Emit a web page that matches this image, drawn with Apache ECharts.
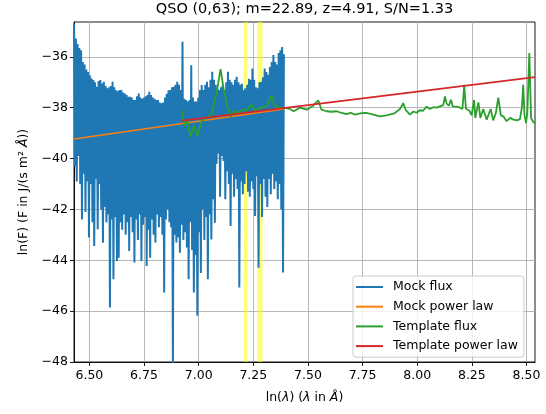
<!DOCTYPE html>
<html>
<head>
<meta charset="utf-8">
<script src="https://cdn.jsdelivr.net/npm/echarts@6/dist/echarts.min.js"></script>
<style>html,body{margin:0;padding:0;background:#fff}#c{width:546px;height:414px}</style>
</head>
<body>
<div id="c"></div>
<script>
// ---- data ----
const titleText = 'QSO (0,63); m=22.89, z=4.91, S/N=1.33';
const xTicks = [6.5, 6.75, 7.0, 7.25, 7.5, 7.75, 8.0, 8.25, 8.5];
const yTicks = [-48, -46, -44, -42, -40, -38, -36];
const seriesNames = ['Mock flux', 'Mock power law', 'Template flux', 'Template power law'];

// mock flux sampled on a uniform ln(lambda) grid
const mockStart = 6.43;
const mockStep = 0.004;
const mockFlux = [
  -34.7, -40.3, -35.28, -40.9, -35.5, -39.9, -35.65, -41.0, -35.74, -42.4,
  -36.2, -40.6, -36.3, -42.1, -36.5, -40.9, -36.6, -43.1, -36.72, -41.0,
  -36.85, -42.5, -36.91, -43.44, -37.0, -40.8, -37.18, -42.78, -36.95, -41.0,
  -36.91, -42.0, -37.05, -43.31, -36.98, -41.9, -37.15, -42.5, -37.24, -42.2,
  -37.2, -45.86, -37.15, -42.4, -36.98, -44.75, -37.2, -42.3, -37.31, -44.03,
  -37.35, -43.9, -37.3, -42.5, -37.3, -42.8, -37.4, -42.2, -37.44, -43.0,
  -37.5, -42.5, -37.57, -43.63, -37.57, -42.3, -37.6, -42.9, -37.7, -44.09,
  -37.7, -42.4, -37.55, -43.2, -37.44, -42.2, -37.6, -44.03, -37.65, -42.6,
  -37.6, -42.3, -37.55, -44.22, -37.5, -42.8, -37.37, -43.9, -37.5, -42.4,
  -37.6, -43.0, -37.65, -43.3, -37.7, -42.2, -37.7, -42.7, -37.8, -42.3,
  -37.83, -43.0, -37.8, -45.27, -37.6, -42.4, -37.45, -42.0, -37.31, -42.5,
  -37.3, -42.7, -37.2, -48.2, -37.18, -43.0, -37.1, -43.3, -36.98, -43.1,
  -37.1, -43.7, -37.3, -42.6, -35.41, -43.2, -37.65, -42.9, -37.7, -43.5,
  -37.76, -44.75, -37.7, -42.5, -36.33, -43.6, -37.6, -45.27, -37.76, -43.8,
  -37.76, -46.18, -37.6, -42.9, -37.3, -44.5, -37.11, -42.0, -37.3, -43.2,
  -37.1, -42.3, -36.98, -44.75, -37.2, -42.2, -36.9, -43.18, -36.59, -41.6,
  -36.9, -42.52, -37.1, -40.2, -37.24, -39.8, -37.3, -41.5, -37.2, -39.9,
  -37.11, -40.1, -37.3, -41.6, -37.0, -40.5, -36.59, -41.0, -36.9, -42.65,
  -37.0, -40.6, -37.1, -41.5, -36.9, -40.8, -36.78, -41.2, -37.0, -45.07,
  -37.1, -40.9, -37.06, -41.4, -37.3, -41.0, -37.24, -40.5, -37.1, -41.3,
  -36.86, -41.5, -36.9, -40.9, -36.46, -41.2, -36.9, -42.26, -37.2, -40.7,
  -37.24, -44.29, -37.0, -41.0, -36.98, -42.3, -36.8, -40.8, -36.46, -41.5,
  -36.6, -41.9, -36.7, -40.8, -36.4, -41.4, -36.2, -40.6, -35.93, -41.2,
  -36.2, -40.9, -36.3, -41.6, -35.85, -41.0, -35.74, -42.0, -35.61, -44.48,
  -35.9
];

const mockPowerLawLnLam = [6.43, 7.39];
const mockPowerLawFlux = [-39.23, -38.05];

const templateLnLam = [
  6.924, 6.936, 6.947, 6.962, 6.978, 6.994, 7.013, 7.036, 7.059, 7.082,
  7.100, 7.115, 7.135, 7.146, 7.165, 7.180, 7.203, 7.220, 7.242, 7.257,
  7.288, 7.310, 7.333, 7.348, 7.371, 7.394, 7.417, 7.435, 7.463, 7.494,
  7.524, 7.547, 7.562, 7.585, 7.608, 7.631, 7.646, 7.677, 7.696, 7.715,
  7.745, 7.768, 7.799, 7.829, 7.860, 7.898, 7.921, 7.936, 7.948, 7.967,
  7.982, 7.997, 8.012, 8.027, 8.043, 8.058, 8.073, 8.089, 8.104, 8.119,
  8.127, 8.135, 8.145, 8.154, 8.163, 8.180, 8.196, 8.207, 8.215, 8.223,
  8.238, 8.249, 8.260, 8.266, 8.280, 8.289, 8.302, 8.318, 8.336, 8.348,
  8.360, 8.371, 8.383, 8.394, 8.409, 8.425, 8.440, 8.457, 8.470, 8.479,
  8.485, 8.491, 8.498, 8.504, 8.513, 8.521, 8.530, 8.539
];
const templateFlux = [
  -38.10, -38.73, -38.45, -39.15, -38.70, -39.10, -38.54, -38.40, -38.27, -37.42,
  -36.48, -37.30, -38.08, -38.36, -38.12, -38.22, -38.08, -38.12, -37.88, -38.10,
  -38.00, -37.95, -37.53, -37.92, -38.01, -38.01, -38.05, -38.14, -38.00, -38.08,
  -37.92, -37.71, -38.08, -38.14, -38.16, -38.14, -38.18, -38.25, -38.20, -38.27,
  -38.21, -38.20, -38.27, -38.34, -38.30, -38.21, -38.05, -37.82, -38.10, -38.27,
  -38.15, -38.20, -38.10, -38.12, -37.96, -38.05, -37.98, -38.00, -37.95, -37.90,
  -37.56, -37.85, -37.92, -37.69, -37.95, -37.96, -38.00, -38.05, -37.10, -38.05,
  -38.10, -38.30, -37.70, -38.40, -37.79, -38.40, -38.05, -38.47, -38.05, -38.50,
  -38.20, -37.60, -38.30, -38.34, -38.53, -38.40, -38.47, -38.50, -38.45, -38.00,
  -37.10, -38.30, -38.60, -38.20, -35.85, -38.40, -38.55, -38.63
];

const templatePowerLawLnLam = [6.924, 8.539];
const templatePowerLawFlux = [-38.51, -36.80];

// highlighted wavelength bands (ln lambda)
const bandStarts = [7.2065, 7.2674];
const bandEnds = [7.2234, 7.2921];

// ---- build ----
const mockData = mockFlux.map((v, i) => [mockStart + mockStep * i, v]);
const mockPL = mockPowerLawLnLam.map((x, i) => [x, mockPowerLawFlux[i]]);
const tmplData = templateLnLam.map((x, i) => [x, templateFlux[i]]);
const tmplPL = templatePowerLawLnLam.map((x, i) => [x, templatePowerLawFlux[i]]);

const FONT = 'DejaVu Sans';
const colors = ['#1f77b4', '#ff7f0e', '#2ca02c', '#d62728'];
const minus = s => String(s).replace('-', '\u2212');

const chart = echarts.init(document.getElementById('c'), null, {renderer: 'canvas'});
const lineSeries = (name, data, color, z, w) => ({
  name, type: 'line', data, showSymbol: false, symbol: 'none', z,
  sampling: null, animation: false,
  lineStyle: {color, width: w}, itemStyle: {color}
});

chart.setOption({
  animation: false,
  textStyle: {fontFamily: FONT},
  grid: {left: 74, right: 11, top: 22, bottom: 52, show: true, borderColor: '#000', borderWidth: 0.9, backgroundColor: 'transparent'},
  graphic: [{
    type: 'text', x: 304.5, y: 2, z: 10,
    style: {text: titleText, fontFamily: FONT, fontSize: 14.5, fill: '#000', align: 'center', verticalAlign: 'top'}
  }],
  xAxis: {
    type: 'value', min: 6.4295, max: 8.539,
    name: 'ln({i|λ}) ({i|λ} in {i|Å})', nameLocation: 'middle', nameGap: 29,
    nameTextStyle: {fontFamily: FONT, fontSize: 12.5, color: '#000', rich: {i: {fontStyle: 'italic', fontFamily: FONT, fontSize: 12.5}}},
    axisLine: {show: true, onZero: false, lineStyle: {color: '#000', width: 0.9}},
    axisTick: {show: true, length: 4, customValues: xTicks, lineStyle: {color: '#000', width: 0.9}},
    axisLabel: {customValues: xTicks, color: '#000', fontSize: 12.5, fontFamily: FONT, margin: 7, formatter: v => v.toFixed(2)},
    splitLine: {show: true, lineStyle: {color: '#b0b0b0', width: 0.9}}
  },
  yAxis: {
    type: 'value', min: -48, max: -34.63,
    name: 'ln(F) (F in J/(s m² {i|Å}))', nameLocation: 'middle', nameGap: 44, nameRotate: 90,
    nameTextStyle: {fontFamily: FONT, fontSize: 12.5, color: '#000', rich: {i: {fontStyle: 'italic', fontFamily: FONT, fontSize: 12.5}}},
    axisLine: {show: true, onZero: false, lineStyle: {color: '#000', width: 0.9}},
    axisTick: {show: true, length: 4, customValues: yTicks, lineStyle: {color: '#000', width: 0.9}},
    axisLabel: {customValues: yTicks, color: '#000', fontSize: 12.5, fontFamily: FONT, margin: 6, formatter: v => minus(v)},
    splitLine: {show: true, lineStyle: {color: '#b0b0b0', width: 0.9}}
  },
  legend: {
    data: seriesNames, orient: 'vertical', left: 353, top: 276,
    backgroundColor: 'rgba(255,255,255,0.8)', borderColor: '#cccccc', borderWidth: 1, borderRadius: 3,
    padding: [3, 6, 3, 3], itemGap: 3.7, itemWidth: 27, itemHeight: 2, icon: 'rect',
    textStyle: {fontFamily: FONT, fontSize: 12.5, color: '#000', lineHeight: 16, padding: [0, 0, 0, 5]}
  },
  series: [
    {
      name: 'bands', type: 'line', data: [], z: 1, silent: true,
      markArea: {
        silent: true,
        itemStyle: {color: 'rgba(255,255,0,0.55)'},
        data: bandStarts.map((s, i) => [{xAxis: s}, {xAxis: bandEnds[i]}])
      }
    },
    lineSeries(seriesNames[0], mockData, colors[0], 2, 2.0),
    lineSeries(seriesNames[1], mockPL, colors[1], 3, 1.7),
    lineSeries(seriesNames[2], tmplData, colors[2], 4, 1.8),
    lineSeries(seriesNames[3], tmplPL, colors[3], 5, 1.7)
  ]
});
</script>
</body>
</html>
